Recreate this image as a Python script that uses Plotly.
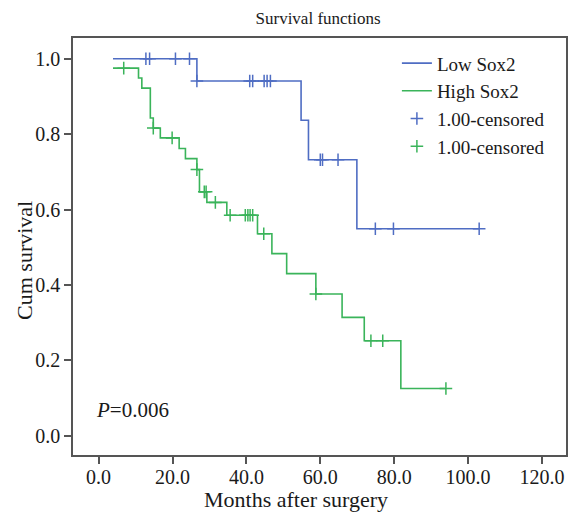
import numpy as np
import plotly.graph_objects as go

# Kaplan-Meier step data (months, cumulative survival)
low_t = [3.9, 26.6, 54.8, 56.8, 69.9, 103.0]
low_s = [1.0, 0.941, 0.837, 0.732, 0.549, 0.549]
low_cens_t = [12.8, 13.8, 20.8, 24.6, 26.6, 40.9, 41.7, 44.8, 45.6, 46.5,
              60.0, 60.6, 64.8, 74.9, 79.8, 103.0]

high_t = [3.9, 10.8, 11.7, 14.0, 14.8, 16.7, 21.8, 23.5, 26.6, 27.3, 29.3,
          34.7, 43.0, 46.9, 50.9, 58.8, 65.9, 71.9, 81.8, 94.0]
high_s = [0.975, 0.949, 0.922, 0.843, 0.816, 0.790, 0.762, 0.735, 0.706, 0.647,
          0.619, 0.585, 0.536, 0.483, 0.430, 0.376, 0.314, 0.252, 0.1255, 0.1255]
high_cens_t = [6.8, 14.8, 19.9, 26.6, 28.6, 29.1, 31.6, 35.6, 39.7, 40.4, 41.0,
               41.7, 44.7, 58.8, 73.7, 76.9, 94.0]

x_ticks = [0, 20, 40, 60, 80, 100, 120]
y_ticks = [0.0, 0.2, 0.4, 0.6, 0.8, 1.0]

BLUE = "#4F6DC3"
GREEN = "#3AB45A"
TEXT = "#1a1a1a"
FONT = "Liberation Serif"


def surv_at(times, steps_t, steps_s):
    idx = np.searchsorted(np.array(steps_t), np.array(times), side="right") - 1
    return [steps_s[i] for i in idx]


fig = go.Figure()
fig.add_trace(go.Scatter(x=low_t, y=low_s, mode="lines", line_shape="hv",
                         line=dict(color=BLUE, width=1.6), name="Low Sox2"))
fig.add_trace(go.Scatter(x=high_t, y=high_s, mode="lines", line_shape="hv",
                         line=dict(color=GREEN, width=1.6), name="High Sox2"))
fig.add_trace(go.Scatter(x=low_cens_t, y=surv_at(low_cens_t, low_t, low_s),
                         mode="markers", name="1.00-censored",
                         marker=dict(symbol="cross-thin", size=9,
                                     line=dict(color=BLUE, width=1.5), color=BLUE)))
fig.add_trace(go.Scatter(x=high_cens_t, y=surv_at(high_cens_t, high_t, high_s),
                         mode="markers", name="1.00-censored",
                         marker=dict(symbol="cross-thin", size=9,
                                     line=dict(color=GREEN, width=1.5), color=GREEN)))

fig.add_annotation(x=-1, y=0.068, xref="x", yref="y", xanchor="left", yanchor="middle",
                   text="<i>P</i>=0.006", showarrow=False, borderpad=0,
                   font=dict(family=FONT, size=21, color=TEXT))

# axis titles (placed as in the reference, slightly off-centre)
fig.add_annotation(x=0.452, y=-0.107, xref="paper", yref="paper",
                   xanchor="center", yanchor="middle", showarrow=False,
                   text="Months after surgery",
                   font=dict(family=FONT, size=22, color=TEXT))
fig.add_annotation(x=-0.098, y=0.467, xref="paper", yref="paper",
                   xanchor="center", yanchor="middle", showarrow=False,
                   text="Cum survival", textangle=-90,
                   font=dict(family=FONT, size=22, color=TEXT))

axis_common = dict(showline=True, linecolor="#555", linewidth=1.5, mirror=True,
                   ticks="outside", ticklen=7, tickwidth=1.5, tickcolor="#555",
                   showgrid=False, zeroline=False, automargin=False,
                   tickfont=dict(family=FONT, size=20, color=TEXT))

# page body has an 8px margin, so the figure is offset by 8px in the window
fig.update_layout(
    width=569, height=504,
    margin=dict(l=65, r=11, t=30, b=57),
    paper_bgcolor="white", plot_bgcolor="white",
    title=dict(text="Survival functions", x=0.545, xanchor="center", y=0.980,
               yanchor="middle", font=dict(family=FONT, size=17, color=TEXT)),
    xaxis=dict(range=[-6.93, 126.5], tickvals=x_ticks,
               ticktext=[f"{v:.1f}" for v in x_ticks],
               ticklabelstandoff=-4,
               **axis_common),
    yaxis=dict(range=[-0.051, 1.055], tickvals=y_ticks,
               ticktext=[f"{v:.1f}" for v in y_ticks],
               **axis_common),
    legend=dict(x=0.657, y=0.985, xanchor="left", yanchor="top",
                bgcolor="rgba(0,0,0,0)", tracegroupgap=0, itemwidth=30,
                font=dict(family=FONT, size=19, color=TEXT)),
    showlegend=True,
)

fig.write_html("out.html")
